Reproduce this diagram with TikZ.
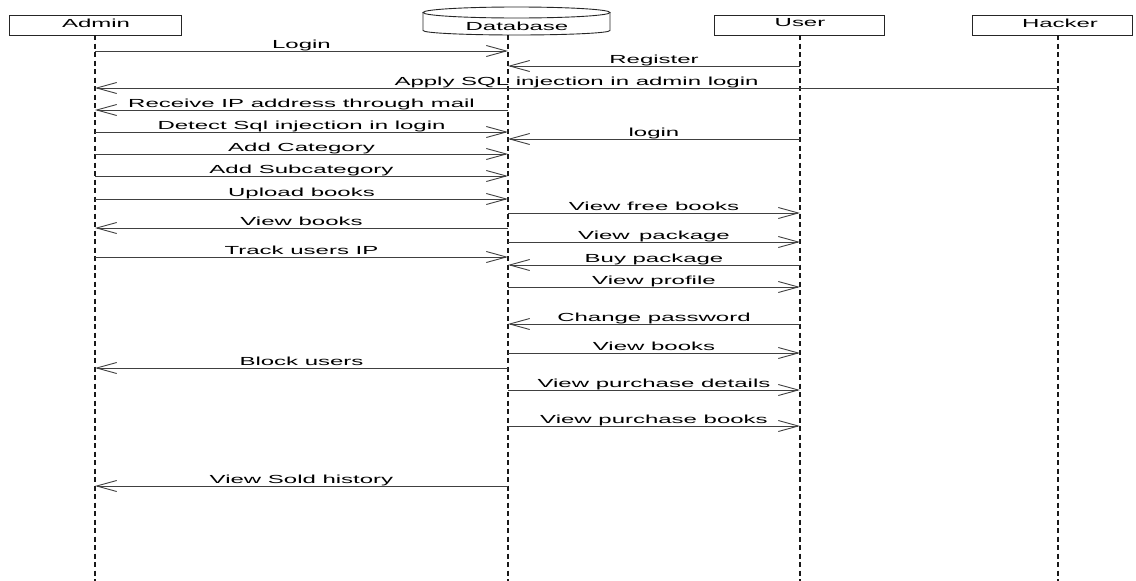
\documentclass[tikz,border=0pt]{standalone}
\usepackage{fontspec}
\newfontfamily\lblfont{Liberation Sans}[FakeStretch=2.05]
\usetikzlibrary{arrows.meta}
\tikzset{
  actor/.style={draw=black!85, line width=0.9pt, rectangle, inner sep=0pt, minimum height=20pt},
  actorlbl/.style={inner sep=0pt, text=black, font=\lblfont\fontsize{11.7}{13}\selectfont},
  lifeline/.style={draw=black!90, line width=1.6pt, dash pattern=on 5pt off 3.5pt},
  msg/.style={draw=black!75, line width=0.9pt, -{Straight Barb[length=20pt,width=11pt,line width=0.9pt]}},
  lbl/.style={anchor=base, inner sep=0pt, yshift=2.5pt, text=black, font=\lblfont\fontsize{11.7}{13}\selectfont}
}
\begin{document}
\begin{tikzpicture}[x=1pt,y=-1pt]
\useasboundingbox[fill=white] (0,0) rectangle (1136,581);
% heads
\node[actor, minimum width=172pt] (admin) at (95,25) {};
\node[actorlbl] (adminlbl) at (96,23) {Admin};
\draw[black!85, line width=0.9pt] (423,13) -- (423,30.5) arc[start angle=180, end angle=0, x radius=93.5, y radius=4.5] -- (610,13);
\draw[black!85, line width=0.9pt] (516.5,12.5) ellipse [x radius=93.5, y radius=5.5];
\node[actorlbl] (db) at (517,26) {Database};
\node[actor, minimum width=170pt] (user) at (799,25) {};
\node[actorlbl] (userlbl) at (800,23) {User};
\node[actor, minimum width=160pt] (hacker) at (1052,25) {};
\node[actorlbl] (hackerlbl) at (1060,23) {Hacker};
% lifelines
\coordinate (aT) at (95,35); \coordinate (aL) at (95,581);
\coordinate (dT) at (508,35); \coordinate (dL) at (508,581);
\coordinate (uT) at (800,35); \coordinate (uL) at (800,581);
\coordinate (hT) at (1058,35); \coordinate (hL) at (1058,581);
\draw[lifeline] (aT) -- (aL);
\draw[lifeline] (dT) -- (dL);
\draw[lifeline] (uT) -- (uL);
\draw[lifeline] (hT) -- (hL);
% messages
\draw[msg] (aL |- 0,51) -- node[lbl]{Login} (dL |- 0,51);
\draw[msg] (uL |- 0,66) -- node[lbl]{Register} (dL |- 0,66);
\draw[msg] (hL |- 0,88) -- node[lbl]{Apply SQL injection in admin login} (aL |- 0,88);
\draw[msg] (dL |- 0,110) -- node[lbl]{Receive IP address through mail} (aL |- 0,110);
\draw[msg] (aL |- 0,132) -- node[lbl]{Detect Sql injection in login} (dL |- 0,132);
\draw[msg] (uL |- 0,139) -- node[lbl]{login} (dL |- 0,139);
\draw[msg] (aL |- 0,154) -- node[lbl]{Add Category} (dL |- 0,154);
\draw[msg] (aL |- 0,176) -- node[lbl]{Add Subcategory} (dL |- 0,176);
\draw[msg] (aL |- 0,199) -- node[lbl]{Upload books} (dL |- 0,199);
\draw[msg] (dL |- 0,213) -- node[lbl]{View free books} (uL |- 0,213);
\draw[msg] (dL |- 0,228) -- node[lbl]{View books} (aL |- 0,228);
\draw[msg] (dL |- 0,242) -- node[lbl]{View\hspace{0.8em}package} (uL |- 0,242);
\draw[msg] (aL |- 0,257) -- node[lbl]{Track users IP} (dL |- 0,257);
\draw[msg] (uL |- 0,265) -- node[lbl]{Buy package} (dL |- 0,265);
\draw[msg] (dL |- 0,287) -- node[lbl]{View profile} (uL |- 0,287);
\draw[msg] (uL |- 0,324) -- node[lbl]{Change password} (dL |- 0,324);
\draw[msg] (dL |- 0,353) -- node[lbl]{View books} (uL |- 0,353);
\draw[msg] (dL |- 0,368) -- node[lbl]{Block users} (aL |- 0,368);
\draw[msg] (dL |- 0,390) -- node[lbl]{View purchase details} (uL |- 0,390);
\draw[msg] (dL |- 0,426) -- node[lbl]{View purchase books} (uL |- 0,426);
\draw[msg] (dL |- 0,486) -- node[lbl]{View Sold history} (aL |- 0,486);
\end{tikzpicture}
\end{document}
